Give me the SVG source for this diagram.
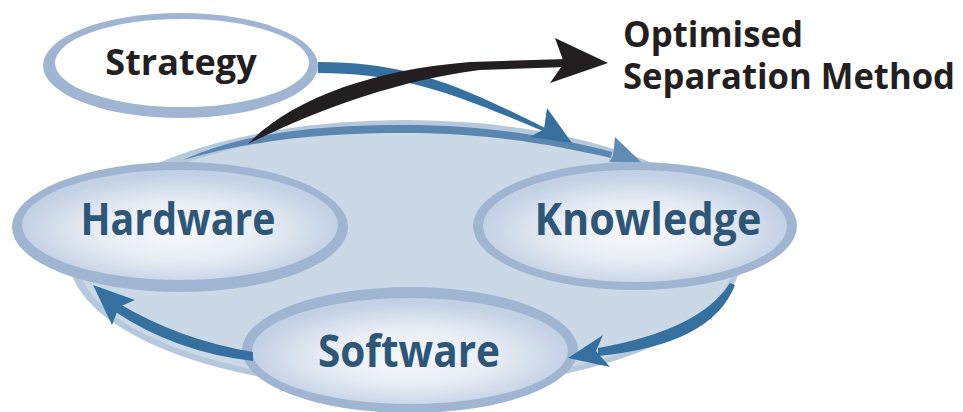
<svg xmlns="http://www.w3.org/2000/svg" width="963" height="412" viewBox="0 0 963 412">
<style>
.rim{fill:#9fb5d1}
.inner{fill:url(#ng)}
.lbl{font-family:"Open Sans","Noto Sans","Liberation Sans",sans-serif;font-weight:700;fill:#2d5677;text-anchor:middle}
.blk{font-family:"Open Sans","Noto Sans","Liberation Sans",sans-serif;font-weight:700;fill:#231f20}
.arr{fill:#35709e}
</style>
<defs>
<radialGradient id="ng" cx="50%" cy="55%" r="50%">
<stop offset="0" stop-color="#f8f9fc"/>
<stop offset="0.55" stop-color="#e7ecf4"/>
<stop offset="1" stop-color="#c3d1e4"/>
</radialGradient>
</defs>
<rect width="963" height="412" fill="#ffffff"/>
<g id="background">
<ellipse cx="405" cy="255" rx="337" ry="135" fill="#b6c8dd"/>
<ellipse cx="406" cy="257" rx="329" ry="127" fill="#cbd9e7"/>
</g>
<g id="strategy">
<ellipse cx="180.5" cy="65.5" rx="137.5" ry="52.5" class="rim"/>
<ellipse cx="182" cy="63" rx="127" ry="44" fill="#ffffff"/>
<text x="181" y="75" class="blk" font-size="36" text-anchor="middle">Strategy</text>
</g>
<g id="hardware">
<ellipse cx="180" cy="227" rx="168" ry="65" class="rim"/>
<ellipse cx="180" cy="225" rx="158" ry="55" class="inner"/>
<text x="178" y="235" class="lbl" font-size="45" textLength="195" lengthAdjust="spacingAndGlyphs">Hardware</text>
</g>
<g id="knowledge">
<ellipse cx="635" cy="226" rx="162" ry="64" class="rim"/>
<ellipse cx="635" cy="226" rx="152" ry="56" class="inner"/>
<text x="648" y="235" class="lbl" font-size="45" textLength="227" lengthAdjust="spacingAndGlyphs">Knowledge</text>
</g>
<g id="software">
<ellipse cx="410" cy="350" rx="168" ry="63" class="rim"/>
<ellipse cx="410" cy="351" rx="158" ry="53" class="inner"/>
<text x="409" y="367" class="lbl" font-size="45" textLength="182" lengthAdjust="spacingAndGlyphs">Software</text>
</g>
<g id="connectors">
<path id="hw-kn" fill="#5a86b0" d="M183,160 C250,130 330,125 405,125 C490,125 560,138 612,152 L611,158 C555,145 490,133 405,133 C330,133 260,138 183,160 Z"/>
<polygon fill="#5f8bb5" points="615,137 641,162 609,162 613,156"/>
<path id="st-kn" class="arr" d="M318,62 C400,62 450,80 545,128 L543,131 C450,92 400,73 318,73 Z"/>
<polygon class="arr" points="547,108 572,143 530,137 544,129"/>
<path id="sw-hw" class="arr" d="M118,303 Q180,340 253,352 L253,361 Q175,352 114,311 Z"/>
<polygon class="arr" points="93,285 135,300 119,307 112,325"/>
<path id="kn-sw" class="arr" d="M730,283 Q700,330 598,348 L598,356 Q712,345 735,285 Z"/>
<polygon class="arr" points="568,358 603,335 596,351 610,367"/>
<path id="out" fill="#231f20" d="M248,144 C290,100 370,70 470,62 L566,59 L566,67 L480,70 C400,80 320,108 248,144 Z"/>
<polygon fill="#231f20" points="555,38 608,63 550,83 564,63"/>
</g>
<g id="optimised">
<text class="blk" font-size="35"><tspan x="623" y="47" textLength="180" lengthAdjust="spacingAndGlyphs">Optimised</tspan><tspan x="623" y="89" textLength="332" lengthAdjust="spacingAndGlyphs">Separation Method</tspan></text>
</g>
</svg>
